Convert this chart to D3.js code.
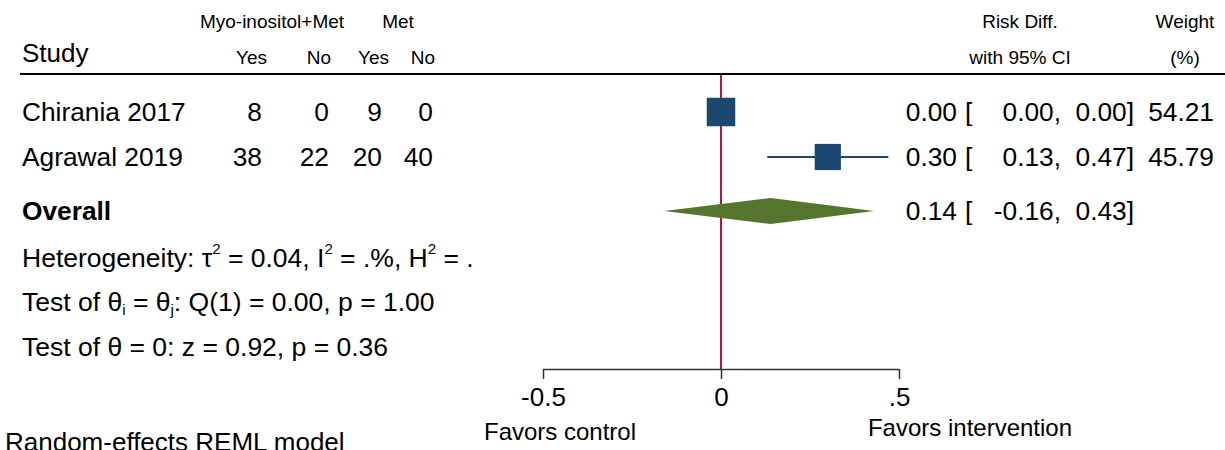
<!DOCTYPE html>
<html>
<head>
<meta charset="utf-8">
<script src="https://cdn.jsdelivr.net/npm/d3@7"></script>
<style>
  body { margin: 0; background: #fff; }
  svg { display: block; font-family: "Liberation Sans", Arial, sans-serif; }
</style>
</head>
<body>
<div id="forest"></div>
<script>
var w = 1225;
var h = 450;

// Study data
var studies = ["Chirania 2017", "Agrawal 2019"];
var trtYes = [8, 38];
var trtNo = [0, 22];
var ctlYes = [9, 20];
var ctlNo = [0, 40];
var riskDiff = [0.00, 0.30];
var lower = [0.00, 0.13];
var upper = [0.00, 0.47];
var weight = [54.21, 45.79];

var overall = [0.14];
var overallCI = [-0.16, 0.43];

var tickValues = [-0.5, 0, 0.5];
var tickLabels = ["-0.5", "0", ".5"];

var navy = "#1a476f";
var green = "#55752f";
var red = "#c4103e";

var rowY = [112, 157];
var overallY = 211;

var svg = d3.select("#forest")
            .append("svg")
                .attr("width", w)
                .attr("height", h);

var x = d3.scaleLinear()
    .domain([-0.5, 0.5])
    .range([543, 899]);

// square side grows with sqrt of weight (area ~ weight)
var side = d3.scaleSqrt()
    .domain([0, 100])
    .range([0, 38.7]);

function fmt(v) { return v.toFixed(2); }

// header
var head = svg.append("g").attr("font-size", 19).attr("fill", "#000");
head.append("text").attr("x", 272).attr("y", 28).attr("text-anchor", "middle").text("Myo-inositol+Met");
head.append("text").attr("x", 398).attr("y", 28).attr("text-anchor", "middle").text("Met");
var subHeads = ["Yes", "No", "Yes", "No"];
var subX = [267, 331, 389, 435];
head.selectAll("text.sub")
    .data(subHeads)
    .enter()
    .append("text")
        .attr("class", "sub")
        .attr("x", function(d, i) { return subX[i]; })
        .attr("y", 64)
        .attr("text-anchor", "end")
        .text(function(d) { return d; });
head.append("text").attr("x", 1020).attr("y", 28).attr("text-anchor", "middle").text("Risk Diff.");
head.append("text").attr("x", 1020).attr("y", 64).attr("text-anchor", "middle").text("with 95% CI");
head.append("text").attr("x", 1185).attr("y", 28).attr("text-anchor", "middle").text("Weight");
head.append("text").attr("x", 1185).attr("y", 64).attr("text-anchor", "middle").text("(%)");

svg.append("text")
    .attr("x", 22).attr("y", 62)
    .attr("font-size", 26)
    .text("Study");

svg.append("line")
    .attr("x1", 20).attr("x2", w)
    .attr("y1", 74).attr("y2", 74)
    .attr("stroke", "#000")
    .attr("stroke-width", 2);

// null line
svg.append("line")
    .attr("x1", x(0)).attr("x2", x(0))
    .attr("y1", 75).attr("y2", 369)
    .attr("stroke", red)
    .attr("stroke-width", 2);

// study rows
var rows = svg.selectAll("g.row")
    .data(studies)
    .enter()
    .append("g")
        .attr("class", "row")
        .attr("font-size", 26.3)
        .attr("transform", function(d, i) { return "translate(0," + rowY[i] + ")"; });

rows.append("text").attr("x", 22).attr("y", 9).text(function(d) { return d; });

var cols = [trtYes, trtNo, ctlYes, ctlNo];
var colX = [262, 329, 382, 433];
cols.forEach(function(arr, c) {
    rows.append("text")
        .attr("x", colX[c]).attr("y", 9)
        .attr("text-anchor", "end")
        .text(function(d, i) { return arr[i]; });
});

rows.append("line")
    .attr("x1", function(d, i) { return x(lower[i]); })
    .attr("x2", function(d, i) { return x(upper[i]); })
    .attr("stroke", navy)
    .attr("stroke-width", 2);

rows.append("rect")
    .attr("x", function(d, i) { return x(riskDiff[i]) - side(weight[i]) / 2; })
    .attr("y", function(d, i) { return -side(weight[i]) / 2; })
    .attr("width", function(d, i) { return side(weight[i]); })
    .attr("height", function(d, i) { return side(weight[i]); })
    .attr("fill", navy);

rows.append("text").attr("x", 957).attr("y", 9).attr("text-anchor", "end")
    .text(function(d, i) { return fmt(riskDiff[i]); });
rows.append("text").attr("x", 965).attr("y", 9).text("[");
rows.append("text").attr("x", 1061).attr("y", 9).attr("text-anchor", "end")
    .text(function(d, i) { return fmt(lower[i]) + ","; });
rows.append("text").attr("x", 1134).attr("y", 9).attr("text-anchor", "end")
    .text(function(d, i) { return fmt(upper[i]) + "]"; });
rows.append("text").attr("x", 1214).attr("y", 9).attr("text-anchor", "end")
    .text(function(d, i) { return fmt(weight[i]); });

// overall
var ov = svg.append("g")
    .attr("font-size", 26.3)
    .attr("transform", "translate(0," + overallY + ")");
ov.append("text").attr("x", 22).attr("y", 9).attr("font-weight", "bold").text("Overall");
ov.append("path")
    .attr("d", "M" + x(overallCI[0]) + ",0L" + x(overall[0]) + ",-13L" + x(overallCI[1]) + ",0L" + x(overall[0]) + ",13Z")
    .attr("fill", green);
ov.append("text").attr("x", 957).attr("y", 9).attr("text-anchor", "end").text(fmt(overall[0]));
ov.append("text").attr("x", 965).attr("y", 9).text("[");
ov.append("text").attr("x", 1061).attr("y", 9).attr("text-anchor", "end").text(fmt(overallCI[0]) + ",");
ov.append("text").attr("x", 1134).attr("y", 9).attr("text-anchor", "end").text(fmt(overallCI[1]) + "]");

// stats text
var st = svg.append("g").attr("font-size", 26.5);
var het = st.append("text").attr("x", 22).attr("y", 267);
het.append("tspan").text("Heterogeneity: \u03c4");
het.append("tspan").attr("font-size", 15).attr("dy", -13).text("2");
het.append("tspan").attr("dy", 13).text(" = 0.04, I");
het.append("tspan").attr("font-size", 15).attr("dy", -13).text("2");
het.append("tspan").attr("dy", 13).text(" = .%, H");
het.append("tspan").attr("font-size", 15).attr("dy", -13).text("2");
het.append("tspan").attr("dy", 13).text(" = .");

var q = st.append("text").attr("x", 22).attr("y", 311);
q.append("tspan").text("Test of \u03b8");
q.append("tspan").attr("font-size", 15).attr("dy", 4).text("i");
q.append("tspan").attr("dy", -4).text(" = \u03b8");
q.append("tspan").attr("font-size", 15).attr("dy", 4).text("j");
q.append("tspan").attr("dy", -4).text(": Q(1) = 0.00, p = 1.00");

st.append("text").attr("x", 22).attr("y", 356).text("Test of \u03b8 = 0: z = 0.92, p = 0.36");

// axis
var axis = svg.append("g")
    .attr("transform", "translate(0,369)")
    .call(d3.axisBottom(x)
        .tickValues(tickValues)
        .tickFormat(function(d, i) { return tickLabels[i]; })
        .tickSize(10)
        .tickSizeOuter(0)
        .tickPadding(9));
axis.select(".domain").attr("stroke", "#333").attr("stroke-width", 1.5);
axis.selectAll(".tick line").attr("stroke", "#333").attr("stroke-width", 1.5);
axis.selectAll(".tick text")
    .attr("font-size", 26)
    .attr("font-family", "Liberation Sans, Arial, sans-serif")
    .attr("fill", "#000");

svg.append("text").attr("x", 560).attr("y", 440).attr("font-size", 24)
    .attr("text-anchor", "middle").text("Favors control");
svg.append("text").attr("x", 970).attr("y", 436).attr("font-size", 24)
    .attr("text-anchor", "middle").text("Favors intervention");

svg.append("text").attr("x", 5).attr("y", 451).attr("font-size", 26)
    .text("Random-effects REML model");
</script>
</body>
</html>
